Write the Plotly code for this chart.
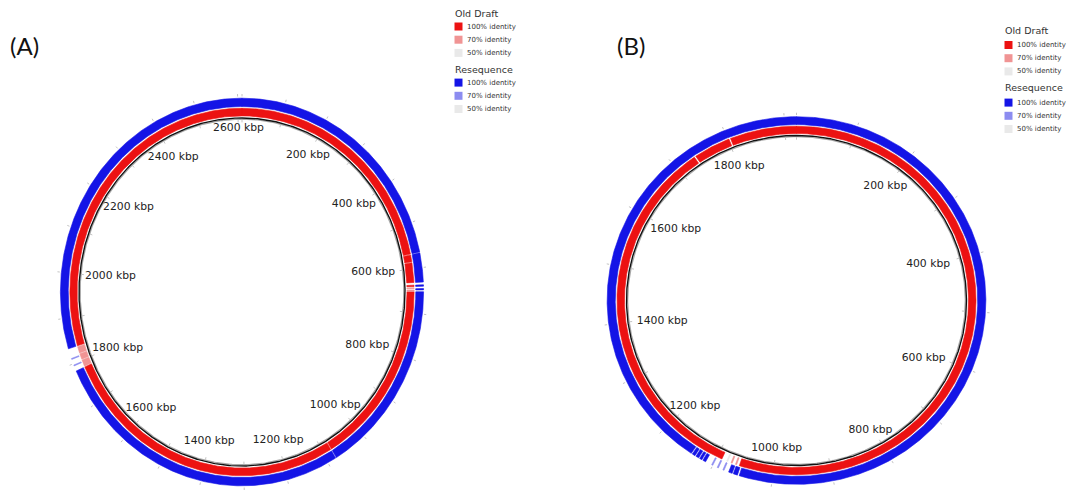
import numpy as np
import plotly.graph_objects as go

# ---------------- data ----------------
# Panel A (genome length in kbp, tick labels, BLAST hit segments)
A_GENOME_KBP = 2610
A_TICKS_KBP = [200, 400, 600, 800, 1000, 1200, 1400, 1600, 1800, 2000, 2200, 2400, 2600]
A_OLD_START = [0, 568, 586, 637, 643, 648, 652, 1080, 1785, 1802, 1817, 1834]
A_OLD_END = [566, 584, 631, 640, 645, 651, 1078, 1783, 1800, 1815, 1832, 2610]
A_OLD_ID = [100, 100, 100, 100, 70, 70, 100, 100, 70, 70, 70, 100]
A_RESEQ_START = [0, 568, 637, 645, 652, 1080, 1795, 1810, 1834]
A_RESEQ_END = [566, 631, 640, 648, 1078, 1783, 1797, 1812, 2610]
A_RESEQ_ID = [100, 100, 100, 100, 100, 100, 70, 70, 100]

# Panel B
B_GENOME_KBP = 1920
B_TICKS_KBP = [200, 400, 600, 800, 1000, 1200, 1400, 1600, 1800]
B_OLD_START = [0, 1064, 1072, 1080, 1091, 1738, 1805]
B_OLD_END = [1059, 1066, 1074, 1082, 1735, 1802, 1920]
B_OLD_ID = [100, 70, 70, 50, 100, 100, 100]
B_RESEQ_START = [0, 1057, 1066, 1080, 1090, 1100, 1113, 1120, 1126, 1133, 1140]
B_RESEQ_END = [1054, 1064, 1072, 1082, 1092, 1102, 1118, 1124, 1131, 1138, 1920]
B_RESEQ_ID = [100, 100, 100, 70, 70, 70, 100, 100, 100, 100, 100]

LEGEND_GROUPS = ["Old Draft", "Resequence"]
LEGEND_LEVELS = [100, 70, 50]

# ---------------- styles ----------------
W, H = 1070, 492
COLORS = {
    "old": {100: "#ec1212", 70: "#f09494", 50: "#e9e9e9"},
    "reseq": {100: "#1414e6", 70: "#8c8cf0", 50: "#e9e9e9"},
}
RING_OLD = (1.012, 1.056)
RING_RESEQ = (1.066, 1.114)

PANELS = [
    dict(name="(A)", L=A_GENOME_KBP, ticks=A_TICKS_KBP,
         old=(A_OLD_START, A_OLD_END, A_OLD_ID),
         reseq=(A_RESEQ_START, A_RESEQ_END, A_RESEQ_ID),
         cx=242, cy=292, rx=163, ry=174,
         lkx0=0.89, lkx1=0.08, lky=0.879, ldy=0, top_bump=11,
         label_xy=(24, 45), legend_xy=(453, 13), legend_gap=13.5),
    dict(name="(B)", L=B_GENOME_KBP, ticks=B_TICKS_KBP,
         old=(B_OLD_START, B_OLD_END, B_OLD_ID),
         reseq=(B_RESEQ_START, B_RESEQ_END, B_RESEQ_ID),
         cx=796.5, cy=300.5, rx=170, ry=165,
         lkx0=0.895, lkx1=0.10, lky=0.891, ldy=2, top_bump=0,
         label_xy=(631, 45), legend_xy=(1003, 30), legend_gap=15),
]

fig = go.Figure()


def pt(p, theta_deg, k):
    t = np.radians(theta_deg)
    return p["cx"] + k * p["rx"] * np.sin(t), p["cy"] - k * p["ry"] * np.cos(t)


def ring_traces(p, segs, radii, palette):
    starts, ends, ids = segs
    groups = {}
    for s, e, lv in zip(starts, ends, ids):
        a0 = s / p["L"] * 360.0
        a1 = e / p["L"] * 360.0
        n = max(2, int((a1 - a0) / 0.4) + 2)
        t = np.linspace(a0, a1, n)
        xo, yo = pt(p, t, radii[1])
        xi, yi = pt(p, t[::-1], radii[0])
        xs = list(xo) + list(xi) + [xo[0], None]
        ys = list(yo) + list(yi) + [yo[0], None]
        gx, gy = groups.setdefault(lv, ([], []))
        gx.extend(xs)
        gy.extend(ys)
    for lv, (gx, gy) in groups.items():
        fig.add_trace(go.Scatter(
            x=gx, y=gy, mode="lines", fill="toself",
            fillcolor=palette[lv], line=dict(color=palette[lv], width=0.6),
            hoverinfo="skip", showlegend=False))


for p in PANELS:
    # backbone circle
    t = np.linspace(0, 360, 721)
    gx, gy = pt(p, t, 0.993)
    fig.add_trace(go.Scatter(x=gx, y=gy, mode="lines",
                             line=dict(color="#a8a8a8", width=1.2),
                             hoverinfo="skip", showlegend=False))
    bx, by = pt(p, t, 1.0)
    fig.add_trace(go.Scatter(x=bx, y=by, mode="lines",
                             line=dict(color="#111111", width=1.4),
                             hoverinfo="skip", showlegend=False))
    # rings
    ring_traces(p, p["old"], RING_OLD, COLORS["old"])
    ring_traces(p, p["reseq"], RING_RESEQ, COLORS["reseq"])

    # faint tick marks
    tx, ty = [], []
    for kb in range(0, p["L"], 100):
        a = kb / p["L"] * 360.0
        x0, y0 = pt(p, a, 1.124)
        x1, y1 = pt(p, a, 1.138)
        tx += [x0, x1, None]
        ty += [y0, y1, None]
        x0, y0 = pt(p, a, 0.975)
        x1, y1 = pt(p, a, 0.99)
        tx += [x0, x1, None]
        ty += [y0, y1, None]
    fig.add_trace(go.Scatter(x=tx, y=ty, mode="lines",
                             line=dict(color="#c4c4c4", width=1),
                             hoverinfo="skip", showlegend=False))

    # kbp labels
    ang = np.radians(np.array(p["ticks"]) / p["L"] * 360.0)
    s, c = np.sin(ang), np.cos(ang)
    kx = p["lkx0"] - p["lkx1"] * s ** 2
    lx = p["cx"] + kx * p["rx"] * s
    ly = (p["cy"] + p["ldy"] - p["lky"] * p["ry"] * c
          - p["top_bump"] * np.clip(c, 0, 1) ** 20)
    fig.add_trace(go.Scatter(
        x=lx, y=ly, mode="text", text=[f"{v} kbp" for v in p["ticks"]],
        textposition="middle center",
        textfont=dict(family="DejaVu Sans", size=10.8, color="#222222"),
        hoverinfo="skip", showlegend=False))

    # panel label
    fig.add_annotation(x=p["label_xy"][0], y=p["label_xy"][1], text=p["name"],
                       showarrow=False, xanchor="center", yanchor="middle",
                       font=dict(family="Lato", size=24, color="#111111"))

    # legend
    lx0, ly0 = p["legend_xy"]
    y = ly0
    for gi, (grp, key) in enumerate(zip(LEGEND_GROUPS, ["old", "reseq"])):
        fig.add_annotation(x=lx0, y=y, text=grp, showarrow=False,
                           xanchor="left", yanchor="middle",
                           font=dict(family="DejaVu Sans", size=9.5, color="#333333"))
        y += p["legend_gap"]
        for lv in LEGEND_LEVELS:
            fig.add_trace(go.Scatter(
                x=[lx0 + 5.5], y=[y], mode="markers",
                marker=dict(symbol="square", size=8, color=COLORS[key][lv],
                            line=dict(width=0)),
                hoverinfo="skip", showlegend=False))
            fig.add_annotation(x=lx0 + 12, y=y, text=f"{lv}% identity", showarrow=False,
                               xanchor="left", yanchor="middle",
                               font=dict(family="DejaVu Sans", size=7, color="#333333"))
            y += 13.2
        y += 3

fig.update_layout(
    width=W, height=H,
    margin=dict(l=0, r=0, t=0, b=0),
    paper_bgcolor="white", plot_bgcolor="white",
    xaxis=dict(range=[0, W], visible=False, fixedrange=True),
    yaxis=dict(range=[H, 0], visible=False, fixedrange=True),
    showlegend=False,
)
fig.write_html(
    "out.html",
    config={"displayModeBar": False},
    post_script="document.body.style.margin='0px';document.body.style.overflow='hidden';",
)
